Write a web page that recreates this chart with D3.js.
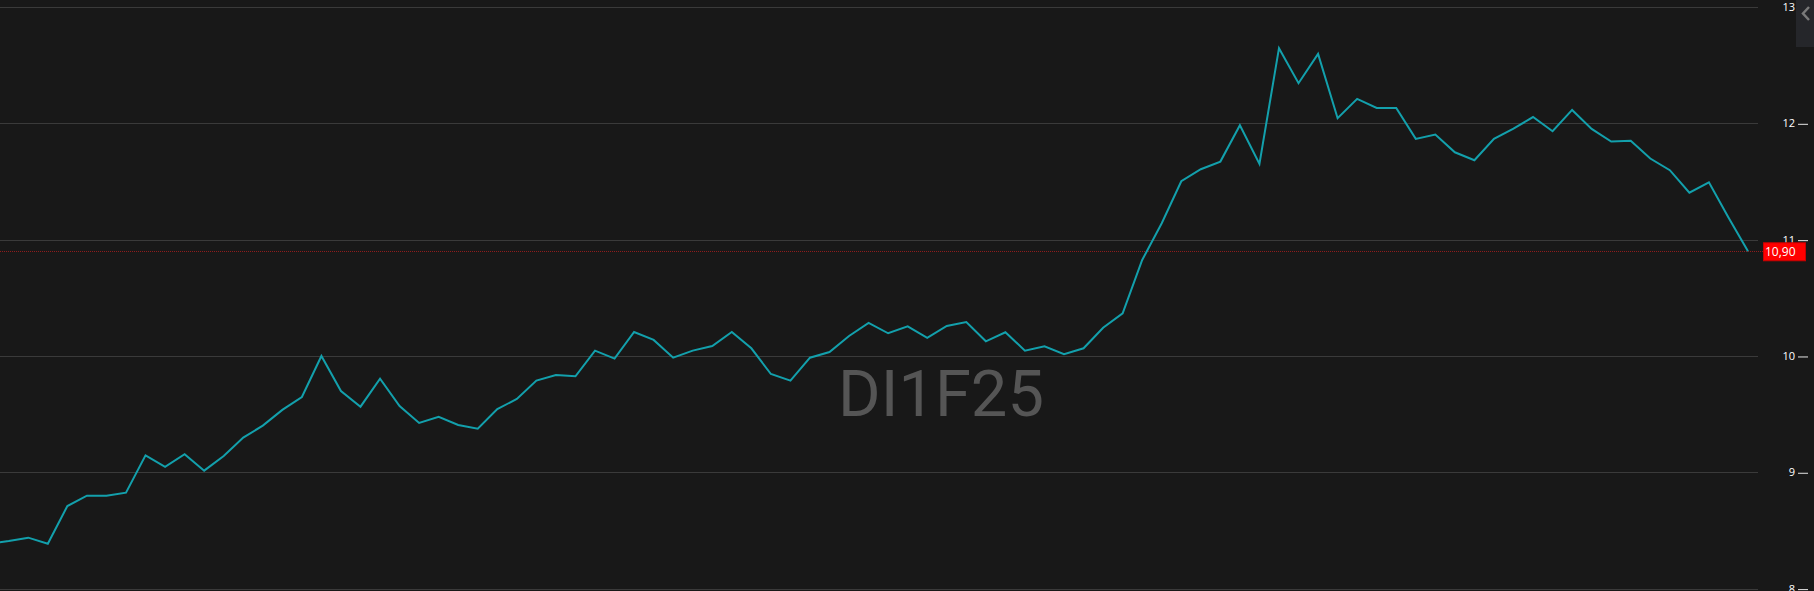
<!DOCTYPE html>
<html>
<head>
<meta charset="utf-8">
<script src="https://cdn.jsdelivr.net/npm/d3@7"></script>
<style>
  html, body { margin: 0; padding: 0; background: #181818; overflow: hidden; }
  svg { display: block; }
</style>
</head>
<body>
<div id="chart"></div>
<script>
// chart data
var values = [
  8.386, 8.409, 8.438, 8.386, 8.71, 8.799, 8.799, 8.825, 9.146, 9.046,
  9.155, 9.014, 9.14, 9.298, 9.401, 9.536, 9.647, 10.0, 9.699, 9.564,
  9.805, 9.57, 9.424, 9.476, 9.407, 9.375, 9.544, 9.63, 9.788, 9.837,
  9.825, 10.046, 9.977, 10.206, 10.138, 9.985, 10.046, 10.086, 10.206, 10.066,
  9.845, 9.788, 9.985, 10.034, 10.172, 10.284, 10.195, 10.255, 10.155, 10.258,
  10.292, 10.126, 10.204, 10.046, 10.083, 10.015, 10.066, 10.243, 10.367, 10.825,
  11.141, 11.502, 11.605, 11.671, 11.984, 11.651, 12.646, 12.345, 12.597, 12.044,
  12.21, 12.132, 12.132, 11.866, 11.903, 11.751, 11.683, 11.866, 11.954, 12.054,
  11.932, 12.115, 11.952, 11.843, 11.851, 11.697, 11.597, 11.404, 11.493, 11.19,
  10.90
];
var yTicks = [8, 9, 10, 11, 12, 13];
var lastLabel = "10,90";
var title = "DI1F25";

var width = 1814, height = 591;
var plotRight = 1758;

var svg = d3.select("#chart")
  .append("svg")
    .attr("width", width)
    .attr("height", height);

svg.append("rect")
  .attr("width", width)
  .attr("height", height)
  .attr("fill", "#181818");

// scales (first point sits just off the left edge)
var x = d3.scaleLinear()
  .domain([0, values.length - 1])
  .range([-10.8, 1748]);

var y = d3.scaleLinear()
  .domain([8, 13])
  .range([588.6, 7]);

// grid lines
svg.append("g")
  .selectAll("line")
  .data(yTicks)
  .enter()
  .append("line")
    .attr("x1", 0)
    .attr("x2", plotRight)
    .attr("y1", function(d) { return Math.round(y(d)) + 0.5; })
    .attr("y2", function(d) { return Math.round(y(d)) + 0.5; })
    .attr("stroke", "#3a3a3a")
    .attr("stroke-width", 1);

// watermark
svg.append("text")
  .attr("x", 941)
  .attr("y", 416)
  .attr("text-anchor", "middle")
  .attr("font-family", "Roboto, sans-serif")
  .attr("font-size", 65)
  .attr("fill", "#555555")
  .text(title);

// right axis: labels + small dashes
var axis = d3.axisRight(y)
  .tickValues(yTicks)
  .tickSize(0)
  .tickPadding(0)
  .tickFormat(d3.format("d"));

var gAxis = svg.append("g")
  .attr("transform", "translate(1795,0)")
  .call(axis);
gAxis.select(".domain").remove();
gAxis.selectAll("text")
  .attr("text-anchor", "end")
  .attr("x", 0)
  .attr("fill", "#ffffff")
  .attr("font-family", "'Open Sans', sans-serif")
  .attr("font-size", 11);
gAxis.selectAll(".tick")
  .append("line")
    .attr("x1", 3)
    .attr("x2", 13)
    .attr("y1", 0.5)
    .attr("y2", 0.5)
    .attr("stroke", "#e6e6e6")
    .attr("stroke-width", 1);

// last price line
var lastVal = values[values.length - 1];
svg.append("line")
  .attr("x1", 0)
  .attr("x2", 1763)
  .attr("y1", Math.round(y(lastVal)) + 0.5)
  .attr("y2", Math.round(y(lastVal)) + 0.5)
  .attr("stroke", "#8e1c1c")
  .attr("stroke-width", 1)
  .attr("stroke-dasharray", "1,1");

// series line
svg.append("clipPath")
  .attr("id", "clip")
  .append("rect")
    .attr("x", 0)
    .attr("y", 0)
    .attr("width", plotRight)
    .attr("height", height);

var line = d3.line()
  .x(function(d, i) { return x(i); })
  .y(function(d) { return y(d); });

svg.append("path")
  .datum(values)
  .attr("clip-path", "url(#clip)")
  .attr("d", line)
  .attr("fill", "none")
  .attr("stroke", "#13a0ac")
  .attr("stroke-width", 2)
  .attr("stroke-linejoin", "miter");

// last value tag
var tag = svg.append("g")
  .attr("transform", "translate(1763," + (y(lastVal) - 9) + ")");
tag.append("rect")
  .attr("x", 0.5)
  .attr("y", 0.5)
  .attr("width", 42)
  .attr("height", 18)
  .attr("fill", "#ff0000")
  .attr("stroke", "#c80000");
tag.append("text")
  .attr("x", 2)
  .attr("y", 14)
  .attr("fill", "#ffffff")
  .attr("font-family", "'Open Sans', sans-serif")
  .attr("font-size", 12)
  .text(lastLabel);

// collapsed side panel in the corner
svg.append("rect")
  .attr("x", 1796)
  .attr("y", 0)
  .attr("width", 18)
  .attr("height", 47)
  .attr("fill", "#25262a");
svg.append("path")
  .attr("d", "M1809,7 L1803,13.5 L1809,20")
  .attr("fill", "none")
  .attr("stroke", "#7a7a7a")
  .attr("stroke-width", 2.5);
</script>
</body>
</html>
